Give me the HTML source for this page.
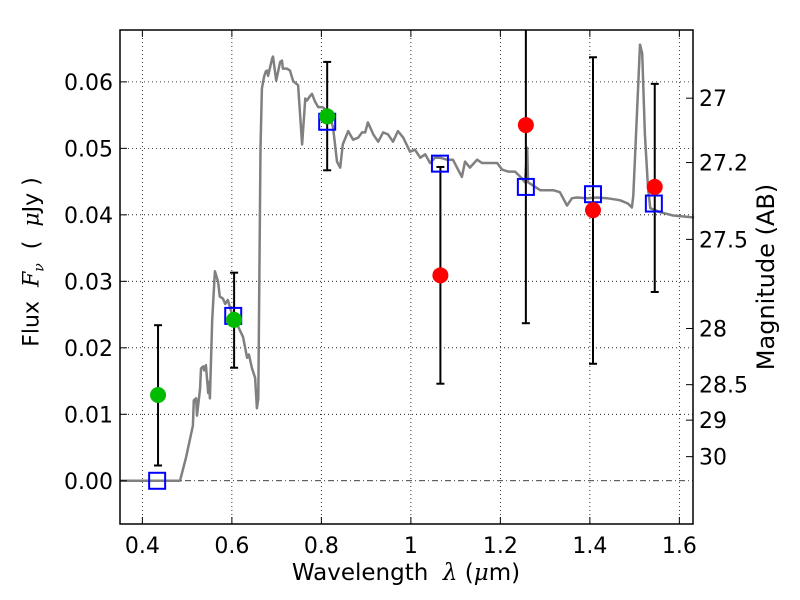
<!DOCTYPE html>
<html><head><meta charset="utf-8"><style>
body{margin:0;background:#fff;}
svg{display:block;font-family:"DejaVu Sans","Liberation Sans",sans-serif;}
.m{font-family:"DejaVu Serif","Liberation Serif",serif;font-style:italic;}
</style></head><body>
<svg id="chart" width="800" height="600" viewBox="0 0 800 600" xmlns="http://www.w3.org/2000/svg">
<rect width="800" height="600" fill="#fff"/>
<g id="grid"></g><g id="marks"></g><g id="axes"></g>
</svg>
<script>
const spectrum = [[0.350,0],[0.484,0],[0.498,0.0036],[0.513,0.0083],[0.515,0.0121],[0.520,0.0124],[0.522,0.0098],[0.529,0.0139],[0.531,0.0169],[0.536,0.0172],[0.538,0.0166],[0.542,0.0174],[0.547,0.0132],[0.549,0.0149],[0.551,0.0124],[0.556,0.0242],[0.562,0.0315],[0.569,0.0300],[0.573,0.0277],[0.580,0.0274],[0.585,0.0266],[0.591,0.0272],[0.600,0.0251],[0.612,0.0235],[0.625,0.0216],[0.634,0.0185],[0.638,0.0190],[0.645,0.0169],[0.652,0.0155],[0.656,0.0109],[0.659,0.0124],[0.661,0.028],[0.664,0.050],[0.667,0.059],[0.672,0.0608],[0.676,0.0616],[0.679,0.0617],[0.681,0.0609],[0.690,0.0635],[0.692,0.0638],[0.699,0.0602],[0.708,0.0630],[0.712,0.0632],[0.714,0.0620],[0.723,0.0620],[0.730,0.0617],[0.737,0.0601],[0.748,0.0595],[0.757,0.0506],[0.764,0.0575],[0.768,0.0572],[0.775,0.0579],[0.779,0.0582],[0.786,0.0570],[0.793,0.0562],[0.802,0.0562],[0.815,0.0556],[0.826,0.0532],[0.835,0.0480],[0.842,0.0471],[0.848,0.0506],[0.860,0.0526],[0.871,0.0513],[0.882,0.0516],[0.891,0.0524],[0.898,0.0524],[0.904,0.0539],[0.916,0.0521],[0.927,0.0510],[0.938,0.0524],[0.949,0.0521],[0.960,0.0510],[0.971,0.0526],[0.983,0.0516],[0.998,0.0495],[1.009,0.0498],[1.021,0.0486],[1.032,0.0491],[1.043,0.0478],[1.054,0.0486],[1.065,0.0486],[1.081,0.0483],[1.094,0.0483],[1.114,0.0457],[1.121,0.0480],[1.132,0.0471],[1.148,0.0483],[1.159,0.0478],[1.170,0.0478],[1.184,0.0478],[1.193,0.0478],[1.204,0.0468],[1.217,0.0465],[1.233,0.0465],[1.248,0.0455],[1.255,0.0449],[1.260,0.0501],[1.262,0.0449],[1.271,0.0445],[1.289,0.0437],[1.318,0.0437],[1.333,0.0434],[1.349,0.0414],[1.360,0.0425],[1.371,0.0426],[1.394,0.0425],[1.416,0.0426],[1.438,0.0425],[1.467,0.0422],[1.485,0.0417],[1.494,0.0411],[1.497,0.0429],[1.505,0.0547],[1.512,0.0656],[1.517,0.0643],[1.523,0.0521],[1.530,0.0441],[1.535,0.0410],[1.557,0.0404],[1.586,0.0399],[1.633,0.0396]];
const modelWl = [0.433,0.603,0.813,1.065,1.257,1.407,1.543];
const modelFlux = [0.0000,0.0248,0.0540,0.0477,0.0442,0.0431,0.0417];
const greenWl = [0.435,0.605,0.813];
const greenFlux = [0.0129,0.0242,0.0548];
const greenLo = [0.0023,0.0170,0.0467];
const greenHi = [0.0234,0.0313,0.0630];
const redWl = [1.066,1.257,1.407,1.545];
const redFlux = [0.0309,0.0535,0.0407,0.0442];
const redLo = [0.0146,0.0237,0.0176,0.0284];
const redHi = [0.0472,0.0833,0.0637,0.0597];
const xTicks = [0.4,0.6,0.8,1.0,1.2,1.4,1.6];
const xTickLabels = ["0.4","0.6","0.8","1","1.2","1.4","1.6"];
const yTicks = [0,0.01,0.02,0.03,0.04,0.05,0.06];
const yTickLabels = ["0.00","0.01","0.02","0.03","0.04","0.05","0.06"];
const magTicks = [27,27.2,27.5,28,28.5,29,30];
const magTickLabels = ["27","27.2","27.5","28","28.5","29","30"];

const L=120,R=693,T=30,B=524;
const X0=0.35,X1=1.6305,Y0=-0.0065,Y1=0.0678;
const sx=v=>L+(v-X0)/(X1-X0)*(R-L);
const sy=v=>B-(v-Y0)/(Y1-Y0)*(B-T);
const NS="http://www.w3.org/2000/svg";
function mk(tag,attrs,parent){const e=document.createElementNS(NS,tag);for(const k in attrs)e.setAttribute(k,attrs[k]);parent.appendChild(e);return e;}
const grid=document.getElementById('grid'),marks=document.getElementById('marks'),axes=document.getElementById('axes');

xTicks.forEach((t,i)=>{
  const g=mk('line',{x1:sx(t),x2:sx(t),y1:T,y2:B,stroke:'#000','stroke-width':0.8,'stroke-dasharray':'1,3'},grid);
  
  
});
yTicks.forEach((t,i)=>{
  const g=mk('line',{x1:L,x2:R,y1:sy(t),y2:sy(t),stroke:'#000','stroke-width':0.8,'stroke-dasharray':t===0?'6,3,1,3':'1,3'},grid);
  
  
});

const d=spectrum.map((p,i)=>(i?'L':'M')+sx(p[0]).toFixed(1)+','+sy(p[1]).toFixed(1)).join(' ');
const sp=mk('path',{d:d,fill:'none',stroke:'#808080','stroke-width':2.5,'stroke-linejoin':'round'},marks);



function errbar(x,lo,hi,name){
  const g=mk('g',{},marks);
  
  
  const top=Math.max(sy(hi),T);
  mk('line',{x1:sx(x),x2:sx(x),y1:sy(lo),y2:top,stroke:'#000','stroke-width':2},g);
  mk('line',{x1:sx(x)-4,x2:sx(x)+4,y1:sy(lo),y2:sy(lo),stroke:'#000','stroke-width':2},g);
  if(sy(hi)>T) mk('line',{x1:sx(x)-4,x2:sx(x)+4,y1:sy(hi),y2:sy(hi),stroke:'#000','stroke-width':2},g);
}
greenWl.forEach((w,i)=>errbar(w,greenLo[i],greenHi[i],'green-errorbar'));
redWl.forEach((w,i)=>errbar(w,redLo[i],redHi[i],'red-errorbar'));

modelWl.forEach((w,i)=>{
  const r=mk('rect',{x:sx(w)-8,y:sy(modelFlux[i])-8,width:16,height:16,fill:'none',stroke:'#0000ff','stroke-width':2},marks);
  
  
});
greenWl.forEach((w,i)=>{
  const c=mk('circle',{cx:sx(w),cy:sy(greenFlux[i]),r:8,fill:'#00bb00'},marks);
  
  
});
redWl.forEach((w,i)=>{
  const c=mk('circle',{cx:sx(w),cy:sy(redFlux[i]),r:8,fill:'#ff0000'},marks);
  
  
});

const frame=mk('rect',{x:L,y:T,width:R-L,height:B-T,fill:'none',stroke:'#000','stroke-width':1.5},axes);



xTicks.forEach((t,i)=>{
  mk('line',{x1:sx(t),x2:sx(t),y1:B,y2:B-7,stroke:'#000','stroke-width':1},axes);
  mk('line',{x1:sx(t),x2:sx(t),y1:T,y2:T+7,stroke:'#000','stroke-width':1},axes);
  const tx=mk('text',{x:sx(t),y:B+29,'text-anchor':'middle','font-size':22},axes);
  tx.textContent=xTickLabels[i];
  
  
});
yTicks.forEach((t,i)=>{
  mk('line',{x1:L,x2:L+7,y1:sy(t),y2:sy(t),stroke:'#000','stroke-width':1},axes);
  const tx=mk('text',{x:L-7,y:sy(t)+8,'text-anchor':'end','font-size':22},axes);
  tx.textContent=yTickLabels[i];
  
  
});
magTicks.forEach((m,i)=>{
  const f=Math.pow(10,(23.9-m)/2.5);
  mk('line',{x1:R,x2:R-7,y1:sy(f),y2:sy(f),stroke:'#000','stroke-width':1},axes);
  const tx=mk('text',{x:R+6,y:sy(f)+8,'text-anchor':'start','font-size':22},axes);
  tx.textContent=magTickLabels[i];
  
  
});
</script>
<div style="position:absolute;left:0;top:0;width:800px;height:600px;pointer-events:none;font-family:'DejaVu Sans','Liberation Sans',sans-serif;">
  <div style="position:absolute;left:0;width:812px;top:559px;text-align:center;font-size:23px;line-height:28px;">Wavelength&nbsp; <span class="m">λ</span> (<span class="m">μ</span>m)</div>
  <div style="position:absolute;left:36px;top:262px;transform:translate(-50%,-50%) rotate(-90deg);white-space:nowrap;font-size:22px;line-height:28px;">Flux&nbsp; <span class="m">F<sub style="font-size:14px">ν</sub></span>&nbsp; (&nbsp; <span class="m">μ</span>Jy )</div>
  <div style="position:absolute;left:766px;top:277px;transform:translate(-50%,-50%) rotate(-90deg);white-space:nowrap;font-size:24px;line-height:28px;">Magnitude (AB)</div>
</div>
</body></html>
